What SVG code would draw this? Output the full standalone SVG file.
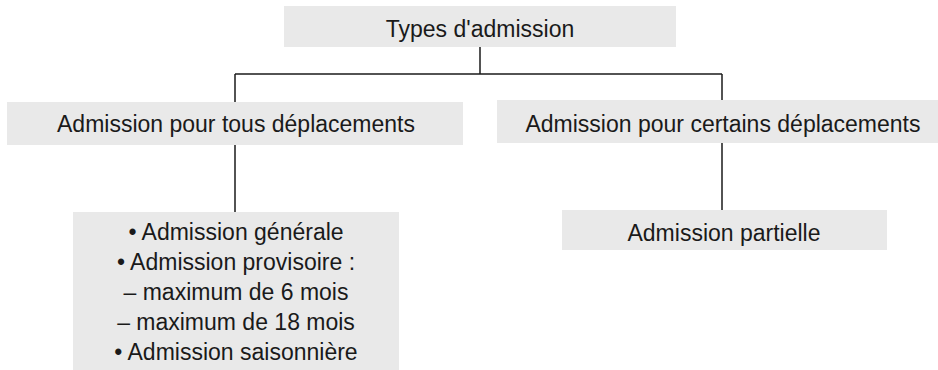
<svg xmlns="http://www.w3.org/2000/svg" width="938" height="370" viewBox="0 0 938 370">
<style>
.box{fill:#e9e9e9;stroke:none}
.t{font-family:"Liberation Sans",Arial,sans-serif;font-size:23px;fill:#1a1a1a;text-anchor:middle}
.c{stroke:#1a1a1a;stroke-width:1.5;fill:none}
</style>
<rect width="938" height="370" fill="#ffffff"/>
<g id="connectors">
<line class="c" x1="480" y1="47" x2="480" y2="74"/>
<line class="c" x1="235" y1="74" x2="722" y2="74"/>
<line class="c" x1="235" y1="74" x2="235" y2="102"/>
<line class="c" x1="722" y1="74" x2="722" y2="100"/>
<line class="c" x1="235" y1="145" x2="235" y2="212"/>
<line class="c" x1="722" y1="143" x2="722" y2="210"/>
</g>
<g id="types">
<rect class="box" x="284" y="6" width="392" height="41"/>
<text class="t" x="480" y="37">Types d'admission</text>
</g>
<g id="tous">
<rect class="box" x="7" y="102" width="456" height="43"/>
<text class="t" x="236" y="132">Admission pour tous déplacements</text>
</g>
<g id="certains">
<rect class="box" x="497" y="100" width="441" height="43"/>
<text class="t" x="723" y="132">Admission pour certains déplacements</text>
</g>
<g id="liste">
<rect class="box" x="73" y="212" width="326" height="158"/>
<text class="t" x="236" y="240">• Admission générale</text>
<text class="t" x="236" y="270">• Admission provisoire :</text>
<text class="t" x="236" y="300">– maximum de 6 mois</text>
<text class="t" x="236" y="330">– maximum de 18 mois</text>
<text class="t" x="236" y="360">• Admission saisonnière</text>
</g>
<g id="partielle">
<rect class="box" x="562" y="210" width="325" height="40"/>
<text class="t" x="724" y="241">Admission partielle</text>
</g>
</svg>
